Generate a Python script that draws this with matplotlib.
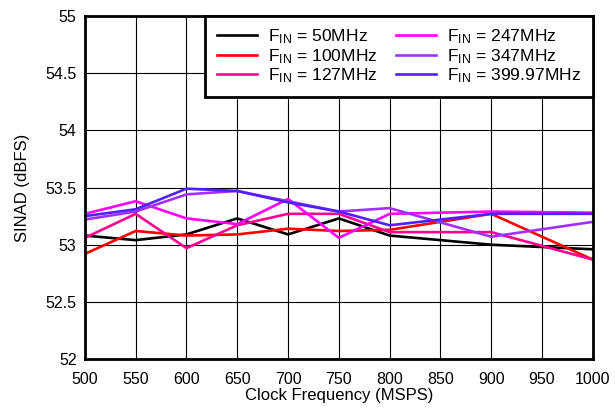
import matplotlib
matplotlib.use("Agg")
import matplotlib.pyplot as plt

plt.rcParams['font.family'] = ['Liberation Sans', 'DejaVu Sans']
plt.rcParams['mathtext.fontset'] = 'custom'
plt.rcParams['mathtext.rm'] = 'Liberation Sans'
plt.rcParams['mathtext.default'] = 'regular'

# 时钟频率 (MSPS)
clock = [500, 550, 600, 650, 700, 750, 800, 900, 1000]

# 各输入频率下的 SINAD (dBFS)
sinad_50 = [53.08, 53.04, 53.09, 53.23, 53.09, 53.23, 53.08, 53.00, 52.96]
sinad_100 = [52.92, 53.12, 53.08, 53.09, 53.14, 53.12, 53.13, 53.27, 52.87]
sinad_127 = [53.06, 53.27, 52.97, 53.17, 53.27, 53.27, 53.11, 53.11, 52.87]
sinad_247 = [53.27, 53.38, 53.23, 53.18, 53.40, 53.06, 53.27, 53.29, 53.28]
sinad_347 = [53.22, 53.29, 53.44, 53.47, 53.38, 53.29, 53.32, 53.07, 53.20]
sinad_400 = [53.25, 53.31, 53.49, 53.47, 53.37, 53.29, 53.17, 53.27, 53.27]

labels = ['50MHz', '100MHz', '127MHz', '247MHz', '347MHz', '399.97MHz']
colors = ['#000000', '#ff0000', '#ff0090', '#ff00ff', '#a030ff', '#5020ff']
series = [sinad_50, sinad_100, sinad_127, sinad_247, sinad_347, sinad_400]

fig = plt.figure(figsize=(6.15, 4.09), dpi=100)
ax = fig.add_axes([0.138, 0.122, 0.826, 0.839])

for vals, lab, col in zip(series, labels, colors):
    ax.plot(clock, vals, color=col, linewidth=1.9,
            label=r'F$_{IN}$ = ' + lab)

ax.set_xlim(500, 1000)
ax.set_ylim(52, 55)
ax.set_xticks(range(500, 1001, 50))
ax.set_yticks([52, 52.5, 53, 53.5, 54, 54.5, 55])
ax.set_yticklabels(['52', '52.5', '53', '53.5', '54', '54.5', '55'])
ax.tick_params(length=0, labelsize=11.5)
ax.tick_params(axis='x', pad=9)
ax.tick_params(axis='y', pad=6)
ax.grid(True, color='black', linewidth=0.8)

for s in ax.spines.values():
    s.set_linewidth(2)

ax.set_xlabel('Clock Frequency (MSPS)', fontsize=12, labelpad=1)
ax.set_ylabel('SINAD (dBFS)', fontsize=12, labelpad=11)

leg = ax.legend(loc='upper right', ncol=2, fontsize=12.6, borderaxespad=0,
                fancybox=False, handlelength=2.3, handletextpad=0.65,
                columnspacing=1.0, labelspacing=0.05, borderpad=0.65)
leg.get_frame().set_edgecolor('black')
leg.get_frame().set_linewidth(2)
leg.get_frame().set_alpha(1)

fig.savefig('out.png', dpi=100)
